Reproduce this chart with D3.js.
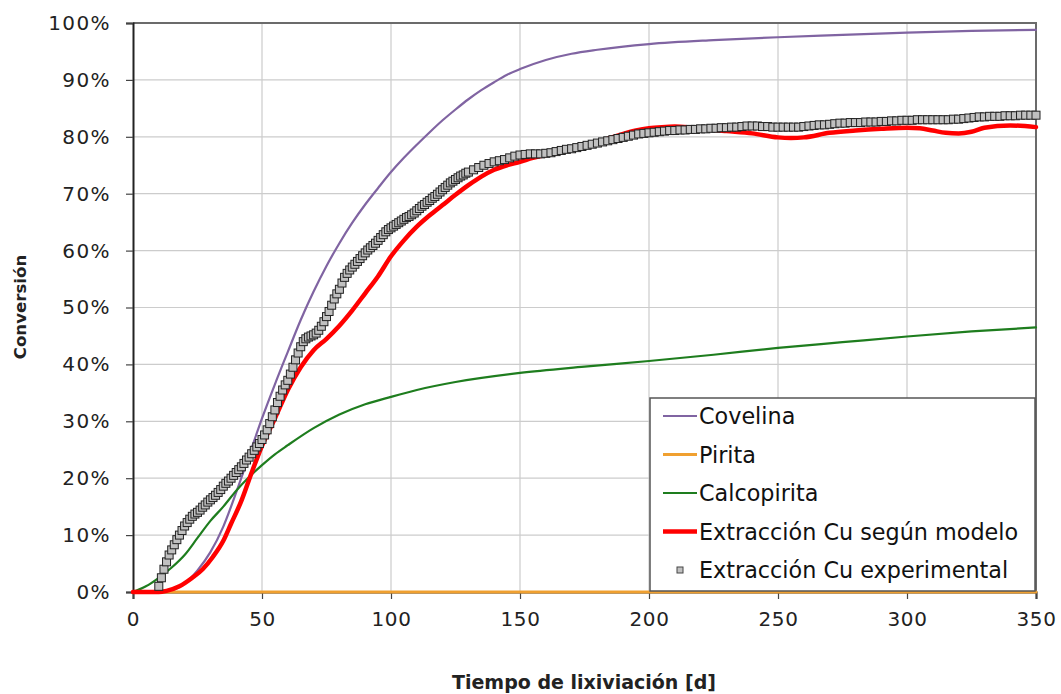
<!DOCTYPE html>
<meta charset="utf-8">
<script src="https://d3js.org/d3.v7.min.js"></script>
<style>
  body { margin: 0; background: #fff; }
  text { font-family: "DejaVu Sans", Verdana, sans-serif; }
</style>
<svg id="chart" width="1061" height="694"></svg>
<script>

// --- data (days, % conversion) ---
var xTicks = [0, 50, 100, 150, 200, 250, 300, 350];
var yTicks = [0, 10, 20, 30, 40, 50, 60, 70, 80, 90, 100];

var covelinaDays = [0, 10, 15, 20, 25, 30, 35, 40, 45, 50, 55, 60, 65, 70, 75, 80, 85, 90, 95, 100, 105, 110, 115, 120, 125, 130, 135, 140, 145, 150, 160, 170, 180, 200, 225, 250, 275, 300, 325, 350];
var covelina     = [0, 0, 0.3, 1.5, 3.8, 7, 11.5, 17.5, 24, 30.5, 36.5, 42.2, 47.8, 52.8, 57.3, 61.3, 64.9, 68.1, 71, 73.8, 76.3, 78.6, 80.8, 82.9, 84.8, 86.6, 88.2, 89.6, 90.9, 91.9, 93.5, 94.6, 95.3, 96.3, 97, 97.5, 97.9, 98.3, 98.6, 98.8];

var piritaDays = [0, 50, 100, 150, 200, 250, 300, 350];
var pirita     = [0, 0, 0, 0, 0, 0, 0, 0];

var calcoDays = [0, 5, 10, 15, 20, 25, 30, 35, 40, 45, 50, 55, 60, 70, 80, 90, 100, 110, 125, 150, 175, 200, 225, 250, 275, 300, 325, 350];
var calco     = [0, 1, 2.5, 4.3, 6.5, 9.5, 12.5, 15, 17.8, 20.2, 22.3, 24.2, 25.8, 28.8, 31.2, 33, 34.3, 35.5, 36.9, 38.5, 39.6, 40.6, 41.7, 42.9, 43.9, 44.9, 45.8, 46.5];

var modeloDays = [0, 10, 13, 18, 23, 27, 31, 35, 38, 42, 46, 50, 55, 60, 65, 70, 75, 80, 85, 90, 95, 100, 105, 110, 115, 120, 125, 130, 135, 140, 145, 150, 155, 160, 165, 170, 175, 180, 185, 190, 195, 200, 205, 210, 215, 220, 225, 230, 240, 250, 255, 260, 270, 280, 290, 300, 305, 310, 315, 320, 325, 330, 340, 350];
var modelo     = [0, 0, 0.2, 1, 2.5, 4, 6.2, 9, 12, 16, 21, 25.7, 30.5, 35.5, 39.5, 42.5, 44.5, 46.8, 49.5, 52.5, 55.5, 59, 61.8, 64.2, 66.2, 68, 69.8, 71.5, 73, 74.2, 75, 75.6, 76.3, 76.8, 77.2, 77.8, 78.3, 79, 79.8, 80.5, 81.1, 81.5, 81.7, 81.8, 81.7, 81.5, 81.2, 81, 80.6, 79.9, 79.8, 79.9, 80.7, 81.1, 81.4, 81.6, 81.5, 81.1, 80.7, 80.6, 80.9, 81.6, 82, 81.7];

// experimental: daily readings from day 10 to 130 ...
var expDaily = [
  1.0, 2.5, 4.0, 5.3, 6.5, 7.4, 8.3, 9.2, 10.0, 10.8,
  11.6, 12.2, 12.8, 13.3, 13.7, 14.0, 14.4, 14.9, 15.3, 15.8,
  16.2, 16.6, 17.0, 17.5, 18.0, 18.6, 19.1, 19.5, 20.0, 20.5,
  21.0, 21.5, 22.0, 22.6, 23.2, 23.7, 24.3, 24.9, 25.5, 26.1,
  26.8, 27.6, 28.5, 29.6, 30.8, 32.0, 33.3, 34.4, 35.5, 36.4,
  37.2, 38.3, 39.5, 40.8, 42.0, 43.1, 44.0, 44.5, 44.8, 45.0,
  45.2, 45.5, 46.0, 46.7, 47.5, 48.4, 49.3, 50.4, 51.5, 52.4,
  53.2, 54.3, 55.3, 56.0, 56.6, 57.1, 57.6, 58.1, 58.6, 59.1,
  59.6, 60.1, 60.5, 60.9, 61.3, 61.8, 62.3, 62.8, 63.3, 63.7,
  64.0, 64.3, 64.6, 64.9, 65.2, 65.5, 65.8, 66.0, 66.3, 66.6,
  67.0, 67.4, 67.8, 68.1, 68.5, 68.8, 69.2, 69.5, 69.9, 70.3,
  70.7, 71.1, 71.5, 71.9, 72.2, 72.5, 72.8, 73.1, 73.3, 73.6,
  73.8
];
// ... then every 2 days from day 132 to 350
var expLate = [
  74.2, 74.6, 75.0, 75.3, 75.6, 75.8, 76.0, 76.3, 76.6,
  76.8, 76.9, 77.0, 77.0, 77.0, 77.1, 77.2, 77.4, 77.6, 77.8,
  77.9, 78.1, 78.3, 78.5, 78.7, 78.9, 79.1, 79.3, 79.5, 79.7,
  79.9, 80.1, 80.3, 80.5, 80.6, 80.7, 80.8, 80.9, 81.0, 81.1,
  81.1, 81.2, 81.2, 81.3, 81.3, 81.4, 81.4, 81.5, 81.5, 81.6,
  81.6, 81.7, 81.7, 81.8, 81.9, 81.9, 81.9, 81.8, 81.8, 81.7,
  81.7, 81.7, 81.7, 81.7, 81.7, 81.8, 81.9, 82.0, 82.1, 82.1,
  82.2, 82.3, 82.4, 82.4, 82.5, 82.5, 82.5, 82.6, 82.6, 82.6,
  82.7, 82.7, 82.8, 82.8, 82.9, 82.9, 82.9, 83.0, 83.0, 83.0,
  83.0, 83.0, 83.0, 83.0, 83.1, 83.1, 83.2, 83.3, 83.4, 83.5,
  83.5, 83.6, 83.6, 83.6, 83.7, 83.7, 83.7, 83.8, 83.8, 83.8,
  83.8
];

var seriesNames = ["Covelina", "Pirita", "Calcopirita", "Extracción Cu según modelo", "Extracción Cu experimental"];
var seriesColors = ["#8064a2", "#f0a030", "#1e7d1e", "#ff0000", "#c0c0c0"];

// --- layout ---
var svg = d3.select("#chart"),
    pl = 133, pr = 1036, pt = 23, pb = 592;

var x = d3.scaleLinear().domain([0, 350]).range([pl, pr]);
var y = d3.scaleLinear().domain([0, 100]).range([pb, pt]);

// gridlines
svg.append("g").selectAll("line").data(xTicks.slice(1, -1)).enter().append("line")
  .attr("x1", d => x(d)).attr("x2", d => x(d)).attr("y1", pt).attr("y2", pb)
  .attr("stroke", "#cccccc").attr("stroke-width", 1.2);
svg.append("g").selectAll("line").data(yTicks.slice(1, -1)).enter().append("line")
  .attr("y1", d => y(d)).attr("y2", d => y(d)).attr("x1", pl).attr("x2", pr)
  .attr("stroke", "#cccccc").attr("stroke-width", 1.2);

// top / right frame
svg.append("path")
  .attr("d", "M" + pl + "," + pt + "H" + pr + "V" + pb)
  .attr("fill", "none").attr("stroke", "#6b6b6b").attr("stroke-width", 2);

// axes
var yAxis = d3.axisLeft(y).tickValues(yTicks).tickSize(7).tickPadding(15)
  .tickFormat(d => d + "%");
var xAxis = d3.axisBottom(x).tickValues(xTicks).tickSize(7).tickPadding(13);

var gy = svg.append("g").attr("transform", "translate(" + pl + ",0)").call(yAxis);
var gx = svg.append("g").attr("transform", "translate(0," + pb + ")").call(xAxis);
[gy, gx].forEach(function(g) {
  g.select(".domain").attr("stroke", "#222").attr("stroke-width", 2);
  g.selectAll(".tick line").attr("stroke", "#444").attr("stroke-width", 1.2);
  g.selectAll(".tick text").attr("fill", "#222")
    .style("font-family", "'DejaVu Sans', sans-serif").style("font-size", "20px")
    .attr("letter-spacing", "0.6px");
});
gy.selectAll(".tick text").attr("letter-spacing", "1.4px");

// axis titles
svg.append("text").attr("x", 584).attr("y", 689)
  .attr("text-anchor", "middle").attr("font-weight", "bold").attr("font-size", "19px")
  .attr("fill", "#222").text("Tiempo de lixiviación [d]");
svg.append("text").attr("transform", "translate(26," + 307 + ") rotate(-90)")
  .attr("text-anchor", "middle").attr("font-weight", "bold").attr("font-size", "16.6px")
  .attr("fill", "#222").text("Conversión");

// lines
function pts(days, vals) { return days.map((d, i) => [d, vals[i]]); }
var line = d3.line().x(d => x(d[0])).y(d => y(d[1])).curve(d3.curveMonotoneX);

var lineSeries = [
  { data: pts(covelinaDays, covelina), color: seriesColors[0], w: 2.2 },
  { data: pts(piritaDays, pirita), color: seriesColors[1], w: 3 },
  { data: pts(calcoDays, calco), color: seriesColors[2], w: 2.2 },
  { data: pts(modeloDays, modelo), color: seriesColors[3], w: 4.5 }
];
svg.append("g").selectAll("path").data(lineSeries).enter().append("path")
  .attr("d", d => line(d.data)).attr("fill", "none")
  .attr("stroke", d => d.color).attr("stroke-width", d => d.w)
  .attr("stroke-linejoin", "round").attr("stroke-linecap", "round");

// experimental squares
var expPts = expDaily.map((v, i) => [10 + i, v])
  .concat(expLate.map((v, i) => [132 + 2 * i, v]));
var sq = 8;
svg.append("g").selectAll("rect").data(expPts).enter().append("rect")
  .attr("x", d => x(d[0]) - sq / 2)
  .attr("y", d => y(d[1]) - sq / 2)
  .attr("width", sq).attr("height", sq)
  .attr("fill", seriesColors[4]).attr("stroke", "#222").attr("stroke-width", 1);

// legend
var lg = svg.append("g");
lg.append("rect").attr("x", 650).attr("y", 398).attr("width", 385).attr("height", 193)
  .attr("fill", "#fff").attr("stroke", "#555").attr("stroke-width", 1.5);
var rowY = d3.scalePoint().domain(seriesNames).range([416, 570]);
seriesNames.forEach(function(name, i) {
  var yy = rowY(name);
  if (i < 4) {
    lg.append("line").attr("x1", 663).attr("x2", 697).attr("y1", yy).attr("y2", yy)
      .attr("stroke", seriesColors[i]).attr("stroke-width", lineSeries[i].w);
  } else {
    lg.append("rect").attr("x", 677).attr("y", yy - 3).attr("width", 6).attr("height", 6)
      .attr("fill", seriesColors[4]).attr("stroke", "#444").attr("stroke-width", 1);
  }
  lg.append("text").attr("x", 699).attr("y", yy).attr("dy", "0.36em")
    .attr("font-size", "22.3px").attr("fill", "#111").text(name);
});

</script>
